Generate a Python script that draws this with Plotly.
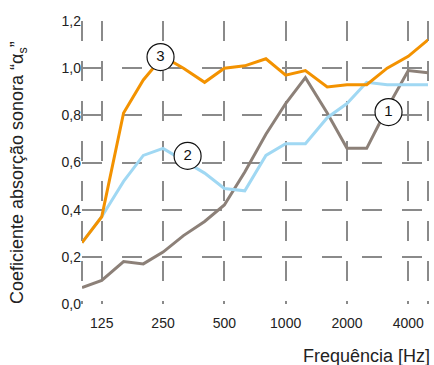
import plotly.graph_objects as go

freqs = [100, 125, 160, 200, 250, 315, 400, 500, 630, 800, 1000, 1250, 1600, 2000, 2500, 3150, 4000, 5000]
curve1 = [0.07, 0.10, 0.18, 0.17, 0.22, 0.29, 0.35, 0.42, 0.56, 0.72, 0.85, 0.96, 0.81, 0.66, 0.66, 0.83, 0.99, 0.98]
curve2 = [0.26, 0.37, 0.52, 0.63, 0.66, 0.61, 0.555, 0.49, 0.48, 0.63, 0.68, 0.68, 0.79, 0.85, 0.94, 0.93, 0.93, 0.93]
curve3 = [0.26, 0.37, 0.81, 0.95, 1.05, 1.00, 0.94, 1.00, 1.01, 1.04, 0.97, 0.99, 0.92, 0.93, 0.93, 1.00, 1.05, 1.12]

x_tickvals = [125, 250, 500, 1000, 2000, 4000]
x_ticktext = ["125", "250", "500", "1000", "2000", "4000"]
y_tickvals = [0, 0.2, 0.4, 0.6, 0.8, 1.0, 1.2]
y_ticktext = ["0,0", "0,2", "0,4", "0,6", "0,8", "1,0", "1,2"]

labels = ["1", "2", "3"]
label_x = [3200, 330, 243]
label_y = [0.814, 0.628, 1.047]

colors = {"1": "#8c8078", "2": "#a0d8f3", "3": "#f39200"}
FONT = "Liberation Sans, Arial, sans-serif"
GRID_COLOR = "#8a8a8a"
GRID = dict(gridcolor=GRID_COLOR, gridwidth=2, griddash="20px,20px")

fig = go.Figure()
for name, ys in (("1", curve1), ("2", curve2), ("3", curve3)):
    fig.add_trace(go.Scatter(x=freqs, y=ys, mode="lines", name=name,
                             line=dict(color=colors[name], width=3),
                             showlegend=False, hoverinfo="skip"))

fig.add_trace(go.Scatter(x=label_x, y=label_y, mode="markers+text", text=labels,
                         textposition="middle center",
                         textfont=dict(family=FONT, size=15, color="#111"),
                         marker=dict(size=27, color="white", line=dict(color="#111", width=1.2)),
                         showlegend=False, hoverinfo="skip", cliponaxis=False))

# dashed frame edges (left / right) matching the grid pattern, drawn from the top down
for xe in (0, 1):
    fig.add_shape(type="line", xref="paper", yref="paper", x0=xe, x1=xe, y0=1, y1=0,
                  line=dict(color=GRID_COLOR, width=2, dash="20px,20px"), layer="below")

fig.update_layout(
    width=434, height=365,
    margin=dict(l=82, r=6, t=21, b=61),
    paper_bgcolor="white", plot_bgcolor="white",
    font=dict(family=FONT, size=14, color="#222"),
    xaxis=dict(type="log", range=[2, 3.69897], tickvals=x_tickvals, ticktext=x_ticktext,
               showgrid=True, **GRID,
               zeroline=False, showline=False, ticks="", ticklabelstandoff=9,
               tickfont=dict(size=14)),
    yaxis=dict(range=[0, 1.2], tickvals=y_tickvals, ticktext=y_ticktext,
               showgrid=True, **GRID,
               zeroline=False, showline=False, ticks="", tickfont=dict(size=14)),
    annotations=[
        dict(text="Frequência [Hz]", xref="paper", yref="paper", x=1.0116, y=-0.184,
             xanchor="right", yanchor="middle", showarrow=False,
             font=dict(family=FONT, size=18, color="#222")),
        dict(text="Coeficiente absorção sonora “α<sub>s</sub>”", xref="paper", yref="paper",
             x=-0.185, y=0.466, xanchor="center", yanchor="middle", textangle=-90,
             showarrow=False, font=dict(family=FONT, size=18, color="#222")),
    ],
)

fig.write_html("out.html", config={"displayModeBar": False},
               post_script="document.body.style.margin='0';")
